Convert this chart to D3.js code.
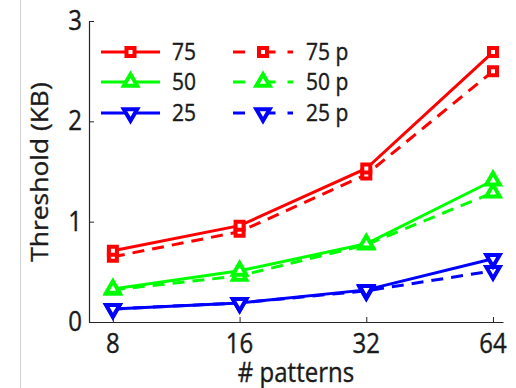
<!DOCTYPE html>
<html lang="en">
<head>
<meta charset="utf-8">
<title>Threshold vs patterns</title>
<script src="https://cdn.jsdelivr.net/npm/d3@7"></script>
<style>
  body { margin: 0; background: #fff; }
  text { font-family: "Open Sans", sans-serif; fill: #1a1a1a; }
</style>
</head>
<body>
<svg width="516" height="388"></svg>
<script>
// data
var patterns = [8, 16, 32, 64];
var yTicks = [0, 1, 2, 3];
var t75  = [0.71, 0.96, 1.53, 2.69];
var t75p = [0.65, 0.90, 1.47, 2.50];
var t50  = [0.33, 0.51, 0.78, 1.41];
var t50p = [0.32, 0.46, 0.77, 1.29];
var t25  = [0.13, 0.19, 0.32, 0.63];
var t25p = [0.13, 0.19, 0.31, 0.51];
var names = ['75', '50', '25', '75 p', '50 p', '25 p'];
var colors = ['#ff0000', '#00ff00', '#0000ff'];

var series = [
  {name: names[0], vals: t75,  color: colors[0], mark: 'square', dash: false},
  {name: names[1], vals: t50,  color: colors[1], mark: 'up',     dash: false},
  {name: names[2], vals: t25,  color: colors[2], mark: 'down',   dash: false},
  {name: names[3], vals: t75p, color: colors[0], mark: 'square', dash: true},
  {name: names[4], vals: t50p, color: colors[1], mark: 'up',     dash: true},
  {name: names[5], vals: t25p, color: colors[2], mark: 'down',   dash: true}
];

var svg = d3.select('svg');
var sy = 1.1; // text in the picture is a bit taller than wide

// thin grey border line at left
svg.append('line')
  .attr('x1', 20.5).attr('x2', 20.5).attr('y1', 0).attr('y2', 388)
  .style('stroke', '#d4d4d4').style('stroke-width', 1);

var x = d3.scaleLog().base(2).domain([7.02, 67.6]).range([89, 503]);
var y = d3.scaleLinear().domain([0, 3]).range([322, 21]);

function markPath(m) {
  if (m === 'square') return d3.symbol(d3.symbolSquare, 64)();
  return d3.symbol(d3.symbolTriangle, 78)();
}
function markTransform(m, px, py) {
  if (m === 'down') return 'translate(' + px + ',' + py + ') rotate(180)';
  return 'translate(' + px + ',' + py + ')';
}

function styledText(sel, str, px, py, size, anchor, rot) {
  return sel.append('text')
    .attr('transform', 'translate(' + px + ',' + py + ') scale(1,' + sy + ')' + (rot ? ' rotate(' + rot + ')' : ''))
    .attr('text-anchor', anchor)
    .style('font-size', size + 'px')
    .style('stroke', '#1a1a1a')
    .style('stroke-width', 0.35)
    .text(str);
}

// axes
var gx = svg.append('g').attr('transform', 'translate(0,322)')
  .call(d3.axisBottom(x).tickValues(patterns).tickFormat(d3.format('d'))
    .tickSizeInner(-5).tickSizeOuter(0).tickPadding(0));
var gy = svg.append('g').attr('transform', 'translate(89,0)')
  .call(d3.axisLeft(y).tickValues(yTicks).tickFormat(d3.format('d'))
    .tickSizeInner(-5).tickSizeOuter(0).tickPadding(0));

[gx, gy].forEach(function(g) {
  g.select('.domain').style('stroke', '#262626').style('stroke-width', 1.2);
  g.selectAll('.tick line').style('stroke', '#262626').style('stroke-width', 1);
  g.selectAll('.tick text').remove();
});

patterns.forEach(function(p) {
  styledText(svg, String(p), x(p), 353, 24, 'middle');
});
yTicks.forEach(function(v) {
  styledText(svg, String(v), 82, y(v) + 9, 24, 'end');
});

styledText(svg, '# patterns', 296, 382, 24, 'middle');
styledText(svg, 'Threshold (KB)', 48, 172, 24, 'middle', -90);

// lines + markers
var line = d3.line()
  .x(function(d, i) { return x(patterns[i]); })
  .y(function(d) { return y(d); });

var drawOrder = [3, 0, 4, 1, 5, 2];
drawOrder.forEach(function(k) {
  var s = series[k];
  svg.append('path')
    .attr('d', line(s.vals))
    .style('fill', 'none')
    .style('stroke', s.color)
    .style('stroke-width', 3)
    .style('stroke-dasharray', s.dash ? '12,8' : null);
  svg.selectAll('path.m' + k)
    .data(s.vals)
    .enter()
    .append('path')
    .attr('class', 'm' + k)
    .attr('d', markPath(s.mark))
    .attr('transform', function(d, i) { return markTransform(s.mark, x(patterns[i]), y(d)); })
    .style('fill', '#fff')
    .style('stroke', s.color)
    .style('stroke-width', 4);
});

// legend
var rowY = [52, 82, 113];
var cols = [{x0: 101, x1: 160, tx: 172}, {x0: 233, x1: 293, tx: 306}];
series.forEach(function(s, k) {
  var c = cols[s.dash ? 1 : 0];
  var ry = rowY[k % 3];
  var lg = svg.append('g');
  lg.append('line')
    .attr('x1', c.x0).attr('x2', c.x1).attr('y1', ry).attr('y2', ry)
    .style('stroke', s.color).style('stroke-width', 3)
    .style('stroke-dasharray', s.dash ? '12,18.5,12' : null);
  var mx = (c.x0 + c.x1) / 2;
  lg.append('path')
    .attr('d', markPath(s.mark))
    .attr('transform', markTransform(s.mark, mx, ry))
    .style('fill', '#fff')
    .style('stroke', s.color)
    .style('stroke-width', 4);
  styledText(lg, s.name, c.tx, ry + 8, 21, 'start');
});
</script>
</body>
</html>
